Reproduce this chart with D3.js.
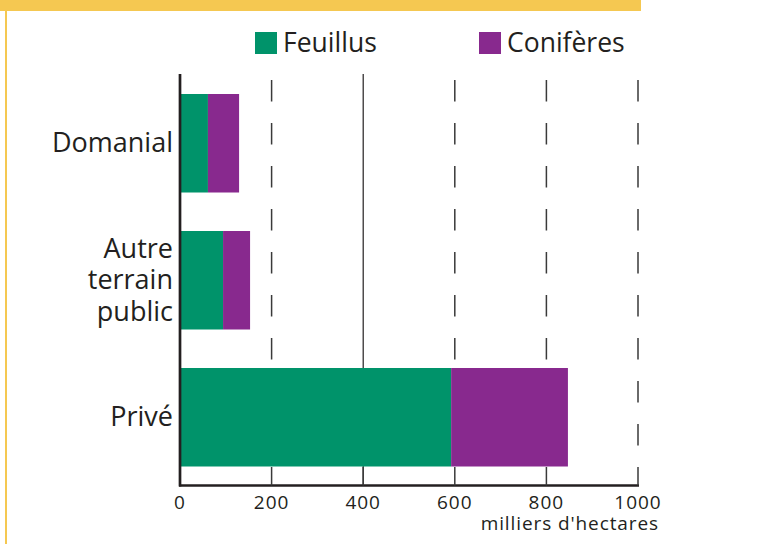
<!DOCTYPE html>
<html>
<head>
<meta charset="utf-8">
<script src="https://cdn.jsdelivr.net/npm/d3@7"></script>
<style>
  body { margin: 0; background: #fff; }
  svg { display: block; font-family: "Open Sans", "Noto Sans", sans-serif; }
</style>
</head>
<body>
<div id="chart"></div>
<script>
// data, milliers d'hectares
var categories = ['Domanial', 'Autre terrain public', 'Privé'];
var feuillus = [61, 94, 592];
var coniferes = [68, 59, 255];
var seriesNames = ['Feuillus', 'Conifères'];
var tickValues = [0, 200, 400, 600, 800, 1000];

var colors = ['#00936a', '#88298e'];
var ink = '#231f20';

var width = 757, height = 544;
var svg = d3.select('#chart').append('svg')
  .attr('width', width).attr('height', height);

// yellow frame (band at top, line on the left)
svg.append('rect').attr('x', 0).attr('y', 0).attr('width', 641).attr('height', 11).attr('fill', '#f5c851');
svg.append('rect').attr('x', 5).attr('y', 0).attr('width', 2).attr('height', height).attr('fill', '#f5c851');

var x = d3.scaleLinear().domain([0, 1000]).range([180, 638]);
var y = d3.scaleBand().domain(categories).range([94, 466.5]).paddingInner(0.281).paddingOuter(0);
var axisY = 485.5, axisTop = 74;

// vertical grid: 400 solid, others dashed
var grid = svg.append('g');
grid.selectAll('line')
  .data(tickValues.filter(function(d){ return d > 0; }))
  .enter().append('line')
  .attr('x1', function(d){ return x(d); })
  .attr('x2', function(d){ return x(d); })
  .attr('y1', function(d){ return d == 400 ? axisTop : 80; })
  .attr('y2', function(d){ return d == 400 ? axisY : 447; })
  .attr('stroke', function(d){ return d == 400 ? ink : '#3a3a3a'; })
  .attr('stroke-width', function(d){ return d == 400 ? 1.2 : 1.5; })
  .attr('stroke-dasharray', function(d){ return d == 400 ? null : '21.5,21.5'; });

// stacked bars
var stack = d3.stack().keys([0, 1])(categories.map(function(c, i){
  return {0: feuillus[i], 1: coniferes[i], cat: c};
}));
svg.append('g').selectAll('g')
  .data(stack)
  .enter().append('g')
  .attr('fill', function(d, i){ return colors[i]; })
  .selectAll('rect')
  .data(function(d){ return d; })
  .enter().append('rect')
  .attr('x', function(d){ return x(d[0]); })
  .attr('width', function(d){ return x(d[1]) - x(d[0]); })
  .attr('y', function(d){ return y(d.data.cat); })
  .attr('height', y.bandwidth());

// bottom axis with inward ticks
var xAxis = svg.append('g');
xAxis.append('line')
  .attr('x1', x(0) - 1).attr('x2', x(1000) + 1)
  .attr('y1', axisY).attr('y2', axisY)
  .attr('stroke', ink).attr('stroke-width', 2.3);
xAxis.selectAll('.tick')
  .data(tickValues.filter(function(d){ return d > 0; }))
  .enter().append('line')
  .attr('x1', function(d){ return x(d); })
  .attr('x2', function(d){ return x(d); })
  .attr('y1', 467).attr('y2', axisY)
  .attr('stroke', '#3a3a3a').attr('stroke-width', 1.5);
xAxis.selectAll('text')
  .data(tickValues)
  .enter().append('text')
  .attr('x', function(d){ return x(d); })
  .attr('y', 509)
  .attr('text-anchor', 'middle')
  .attr('font-size', 19)
  .attr('letter-spacing', 1)
  .attr('fill', ink)
  .text(function(d){ return d; });
svg.append('text')
  .attr('x', 659).attr('y', 530)
  .attr('text-anchor', 'end')
  .attr('font-size', 19)
  .attr('letter-spacing', 0.9)
  .attr('fill', ink)
  .text("milliers d'hectares");

// left axis
svg.append('line')
  .attr('x1', x(0)).attr('x2', x(0))
  .attr('y1', axisTop).attr('y2', axisY + 1)
  .attr('stroke', ink).attr('stroke-width', 2.7);

// category labels
var labelLines = {
  'Domanial': ['Domanial'],
  'Autre terrain public': ['Autre', 'terrain', 'public'],
  'Privé': ['Privé']
};
var labels = svg.append('g').selectAll('text')
  .data(categories)
  .enter().append('text')
  .attr('text-anchor', 'end')
  .attr('font-size', 27)
  .attr('fill', ink);
labels.each(function(c){
  var lines = labelLines[c];
  var mid = y(c) + y.bandwidth() / 2;
  var lh = 31.7;
  var t = d3.select(this);
  lines.forEach(function(s, i){
    t.append('tspan')
      .attr('x', 173)
      .attr('y', mid + 9 + (i - (lines.length - 1) / 2) * lh)
      .text(s);
  });
});

// legend
var legendX = [255, 479];
var legend = svg.append('g').selectAll('g')
  .data(seriesNames)
  .enter().append('g')
  .attr('transform', function(d, i){ return 'translate(' + [legendX[i], 32] + ')'; });
legend.append('rect')
  .attr('width', 22).attr('height', 22)
  .attr('fill', function(d, i){ return colors[i]; });
legend.append('text')
  .attr('x', 28).attr('y', 20)
  .attr('font-size', 26.5)
  .attr('fill', ink)
  .text(function(d){ return d; });
</script>
</body>
</html>
